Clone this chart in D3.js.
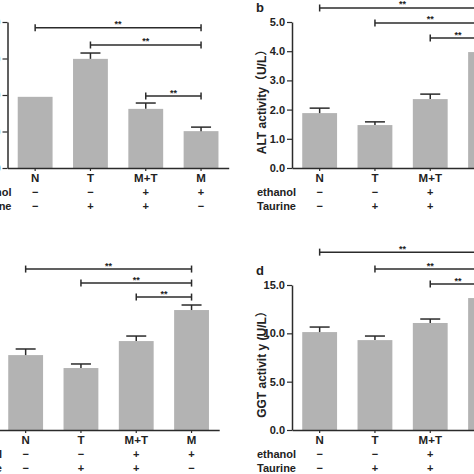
<!DOCTYPE html>
<html><head><meta charset="utf-8">
<script src="https://cdn.jsdelivr.net/npm/d3@7"></script>
<style>
html,body{margin:0;padding:0;background:#fff;}
svg{display:block;}
text{font-family:"Liberation Sans",Arial,"Noto Sans CJK SC",sans-serif;font-weight:bold;fill:#222;}
</style></head>
<body>
<script>
// ---- data ----
const categories = ["N", "T", "M+T", "M"];
const ethanolRow = ["−", "−", "+", "+"];
const taurineRow = ["−", "+", "+", "−"];
const rowLabels = ["ethanol", "Taurine"];

const aValues = [19.5, 29.9, 16.2, 10.1];
const aErrors = [0, 1.6, 1.6, 1.1];
const aTicks = [0, 10, 20, 30, 40];

const bValues = [1.88, 1.47, 2.36, 3.97];
const bErrors = [0.17, 0.11, 0.17, 0.2];
const bTicks = [0, 1, 2, 3, 4, 5];

const cValues = [7.75, 6.41, 9.2, 12.41];
const cErrors = [0.63, 0.42, 0.52, 0.52];
const cTicks = [0, 5, 10, 15];

const dValues = [10.13, 9.3, 11.07, 13.65];
const dErrors = [0.52, 0.42, 0.41, 0.5];
const dTicks = [0, 5, 10, 15];

const aSig = [["N", "M", 38.4], ["T", "M", 33.7], ["M+T", "M", 19.7]];
const bSig = [["N", "M", 5.48], ["T", "M", 4.97], ["M+T", "M", 4.45]];
const cSig = [["N", "M", 16.65], ["T", "M", 15.2], ["M+T", "M", 13.75]];
const dSig = [["N", "M", 18.4], ["T", "M", 16.65], ["M+T", "M", 15.1]];

// ---- layout ----
const W = 474, H = 474;
const STEP = 55.3;
const panels = [
  {letter: null, values: aValues, errors: aErrors, ticks: aTicks, fmt: d3.format("d"), sig: aSig,
   x0: 7.5, base: 168, top: 22, yLabel: null},
  {letter: "b", values: bValues, errors: bErrors, ticks: bTicks, fmt: d3.format(".1f"), sig: bSig,
   x0: 292, base: 168, top: 22, yLabel: "ALT activity（U/L）"},
  {letter: null, values: cValues, errors: cErrors, ticks: cTicks, fmt: d3.format(".1f"), sig: cSig,
   x0: -2, base: 430, top: 285, yLabel: null},
  {letter: "d", values: dValues, errors: dErrors, ticks: dTicks, fmt: d3.format(".1f"), sig: dSig,
   x0: 292, base: 430, top: 285, yLabel: "GGT activit y (U/L）"}
];

const svg = d3.select("body").append("svg").attr("width", W).attr("height", H);
const ink = "#2b2b2b";

panels.forEach(p => {
  const g = svg.append("g");
  const x = d3.scaleBand().domain(categories)
    .range([p.x0, p.x0 + STEP * categories.length])
    .paddingInner(0.37).paddingOuter(0.185);
  const y = d3.scaleLinear().domain([0, d3.max(p.ticks)]).range([p.base, p.top]);

  // bars
  g.selectAll("rect.bar").data(categories).enter().append("rect")
    .attr("x", c => x(c)).attr("width", x.bandwidth())
    .attr("y", (c, i) => y(p.values[i]))
    .attr("height", (c, i) => p.base - y(p.values[i]))
    .attr("fill", "#b3b3b3");

  // error bars
  categories.forEach((c, i) => {
    if (!p.errors[i]) return;
    const cx = x(c) + x.bandwidth() / 2;
    const y1 = y(p.values[i]), y2 = y(p.values[i] + p.errors[i]);
    g.append("line").attr("x1", cx).attr("x2", cx).attr("y1", y1).attr("y2", y2)
      .attr("stroke", ink).attr("stroke-width", 1.5);
    g.append("line").attr("x1", cx - 10).attr("x2", cx + 10).attr("y1", y2).attr("y2", y2)
      .attr("stroke", ink).attr("stroke-width", 1.5);
  });

  // axes
  const xa = g.append("g").attr("transform", `translate(0,${p.base})`)
    .call(d3.axisBottom(x).tickSize(3).tickSizeOuter(0).tickPadding(3));
  xa.select(".domain").attr("stroke", ink).attr("stroke-width", 1.5);
  xa.selectAll(".tick line").attr("stroke", ink).attr("stroke-width", 1.2);
  xa.selectAll(".tick text").attr("font-size", 11.5).attr("fill", "#222")
    .style("font-family", '"Liberation Sans",Arial,sans-serif').style("font-weight", "bold");

  const ya = g.append("g").attr("transform", `translate(${p.x0},0)`)
    .call(d3.axisLeft(y).tickValues(p.ticks).tickFormat(p.fmt).tickSize(5).tickSizeOuter(0).tickPadding(2));
  ya.select(".domain").attr("stroke", ink).attr("stroke-width", 1.5);
  ya.selectAll(".tick line").attr("stroke", ink).attr("stroke-width", 1.2);
  ya.selectAll(".tick text").attr("font-size", 11).attr("fill", "#222")
    .style("font-family", '"Liberation Sans",Arial,sans-serif').style("font-weight", "bold");

  // treatment rows
  [ethanolRow, taurineRow].forEach((row, r) => {
    const yy = p.base + 28 + r * 14;
    g.append("text").attr("x", p.x0 + 4).attr("y", yy).attr("text-anchor", "end")
      .attr("font-size", 11).text(rowLabels[r]);
    categories.forEach((c, i) => {
      g.append("text").attr("x", x(c) + x.bandwidth() / 2).attr("y", yy)
        .attr("text-anchor", "middle").attr("font-size", 11).text(row[i]);
    });
  });

  // significance brackets
  p.sig.forEach(([a, b, v]) => {
    const xa1 = x(a) + x.bandwidth() / 2, xb1 = x(b) + x.bandwidth() / 2, yy = y(v);
    g.append("line").attr("x1", xa1).attr("x2", xb1).attr("y1", yy).attr("y2", yy)
      .attr("stroke", ink).attr("stroke-width", 1.5);
    [xa1, xb1].forEach(xx => g.append("line").attr("x1", xx).attr("x2", xx)
      .attr("y1", yy - 3.5).attr("y2", yy + 3.5).attr("stroke", ink).attr("stroke-width", 1.5));
    g.append("text").attr("x", (xa1 + xb1) / 2).attr("y", yy - 0.5)
      .attr("text-anchor", "middle").attr("font-size", 9).text("**");
  });

  // y label
  if (p.yLabel) {
    const cy = (p.base + p.top) / 2 + 4;
    g.append("text").attr("transform", `translate(${p.x0 - 26},${cy}) rotate(-90)`)
      .attr("text-anchor", "middle").attr("font-size", 12).text(p.yLabel);
  }
  if (p.letter) {
    g.append("text").attr("x", p.x0 - 36).attr("y", p.top - 10)
      .attr("font-size", 13).text(p.letter);
  }
});
</script>
</body></html>
